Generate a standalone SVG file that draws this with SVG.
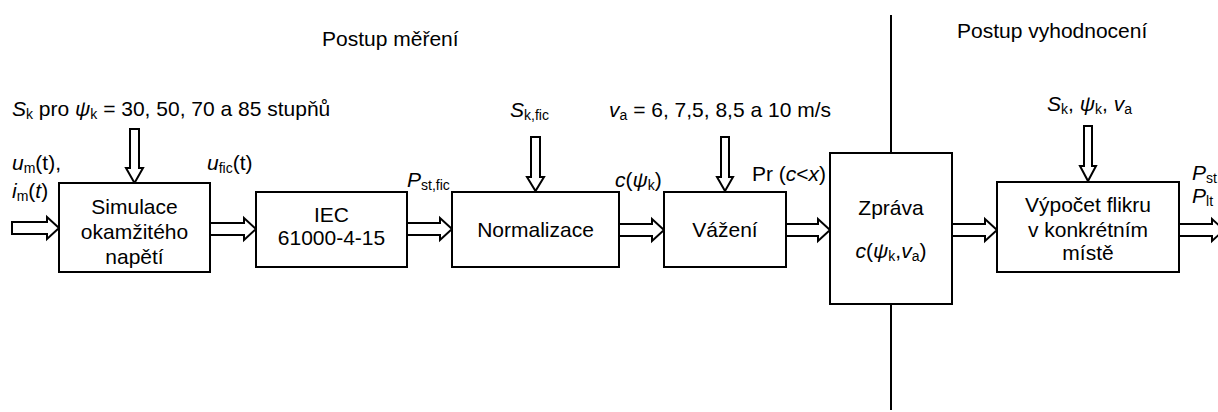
<svg xmlns="http://www.w3.org/2000/svg" width="1218" height="412" viewBox="0 0 1218 412">
<style>
text{font-family:"Liberation Sans",Arial,sans-serif;font-size:21px;fill:#000}
.c{text-anchor:middle}
.i{font-style:italic}
.s{font-size:14px;font-style:normal}
.box{fill:#fff;stroke:#000;stroke-width:2}
.ar{fill:#fff;stroke:#000;stroke-width:2;stroke-linejoin:miter}
.ln{stroke:#000;stroke-width:2;fill:none}
</style>
<rect width="1218" height="412" fill="#fff"/>
<g id="labels">
<text x="322" y="46">Postup měření</text>
<text x="957" y="38">Postup vyhodnocení</text>
<text x="12" y="116"><tspan class="i">S</tspan><tspan class="s" dy="3">k</tspan><tspan dy="-3"> pro </tspan><tspan class="i">ψ</tspan><tspan class="s" dy="3">k</tspan><tspan dy="-3"> = 30, 50, 70 a 85 stupňů</tspan></text>
<text x="510" y="117"><tspan class="i">S</tspan><tspan class="s" dy="3">k,fic</tspan></text>
<text x="609" y="117"><tspan class="i">v</tspan><tspan class="s" dy="3">a</tspan><tspan dy="-3"> = 6, 7,5, 8,5 a 10 m/s</tspan></text>
<text x="1047" y="111"><tspan class="i">S</tspan><tspan class="s" dy="3">k</tspan><tspan dy="-3">,  </tspan><tspan class="i">ψ</tspan><tspan class="s" dy="3">k</tspan><tspan dy="-3">, </tspan><tspan class="i">v</tspan><tspan class="s" dy="3">a</tspan></text>
<text x="12" y="170"><tspan class="i">u</tspan><tspan class="s" dy="3">m</tspan><tspan dy="-3">(t),</tspan></text>
<text x="12" y="198"><tspan class="i">i</tspan><tspan class="s" dy="3">m</tspan><tspan dy="-3">(</tspan><tspan class="i">t</tspan><tspan>)</tspan></text>
<text x="207" y="170"><tspan class="i">u</tspan><tspan class="s" dy="3">fic</tspan><tspan dy="-3">(t)</tspan></text>
<text x="407" y="187"><tspan class="i">P</tspan><tspan class="s" dy="3">st,fic</tspan></text>
<text x="615" y="187"><tspan class="i">c</tspan><tspan>(</tspan><tspan class="i">ψ</tspan><tspan class="s" dy="3">k</tspan><tspan dy="-3">)</tspan></text>
<text x="752" y="181">Pr (<tspan class="i">c</tspan>&lt;<tspan class="i">x</tspan>)</text>
<text x="1192" y="180"><tspan class="i">P</tspan><tspan class="s" dy="3">st,</tspan></text>
<text x="1192" y="203"><tspan class="i">P</tspan><tspan class="s" dy="3">lt</tspan></text>
</g>
<g id="connectors">
<line class="ln" x1="891" y1="15" x2="891" y2="153"/>
<line class="ln" x1="891" y1="304" x2="891" y2="410"/>
<polygon class="ar" points="12,222 47,222 47,217 59,228 47,239 47,234 12,234"/>
<polygon class="ar" points="210,223 244,223 244,218 256,229 244,240 244,235 210,235"/>
<polygon class="ar" points="407,223 440,223 440,218 452,229 440,240 440,235 407,235"/>
<polygon class="ar" points="619,224 652,224 652,219 664,230 652,241 652,236 619,236"/>
<polygon class="ar" points="786,224 818,224 818,219 830,230 818,241 818,236 786,236"/>
<polygon class="ar" points="952,224 985,224 985,219 997,230 985,241 985,236 952,236"/>
<polygon class="ar" points="1179,224 1212,224 1212,219 1224,230 1212,241 1212,236 1179,236"/>
<polygon class="ar" points="130,129 139,129 139,168 143,168 134.5,183 126,168 130,168"/>
<polygon class="ar" points="531,137 540,137 540,177 544,177 535.5,191 527,177 531,177"/>
<polygon class="ar" points="721,137 729,137 729,177 733,177 725,191 717,177 721,177"/>
<polygon class="ar" points="1084,126 1092,126 1092,166 1096,166 1088,181 1080,166 1084,166"/>
</g>
<g id="n1">
<rect class="box" x="59" y="183" width="151" height="89"/>
<text class="c" x="134.5" y="214">Simulace</text>
<text class="c" x="134.5" y="239">okamžitého</text>
<text class="c" x="134.5" y="264">napětí</text>
</g>
<g id="n2">
<rect class="box" x="256" y="192" width="151" height="75"/>
<text class="c" x="331.5" y="222">IEC</text>
<text class="c" x="331.5" y="245">61000-4-15</text>
</g>
<g id="n3">
<rect class="box" x="452" y="192" width="167" height="75"/>
<text class="c" x="535.5" y="237">Normalizace</text>
</g>
<g id="n4">
<rect class="box" x="664" y="192" width="122" height="75"/>
<text class="c" x="725" y="237">Vážení</text>
</g>
<g id="n5">
<rect class="box" x="830" y="153" width="122" height="151"/>
<text class="c" x="891" y="215">Zpráva</text>
<text class="c" x="891" y="258"><tspan class="i">c</tspan><tspan>(</tspan><tspan class="i">ψ</tspan><tspan class="s" dy="3">k</tspan><tspan dy="-3">,</tspan><tspan class="i">v</tspan><tspan class="s" dy="3">a</tspan><tspan dy="-3">)</tspan></text>
</g>
<g id="n6">
<rect class="box" x="997" y="182" width="182" height="90"/>
<text class="c" x="1088" y="212">Výpočet flikru</text>
<text class="c" x="1088" y="237">v konkrétním</text>
<text class="c" x="1088" y="260">místě</text>
</g>
</svg>
